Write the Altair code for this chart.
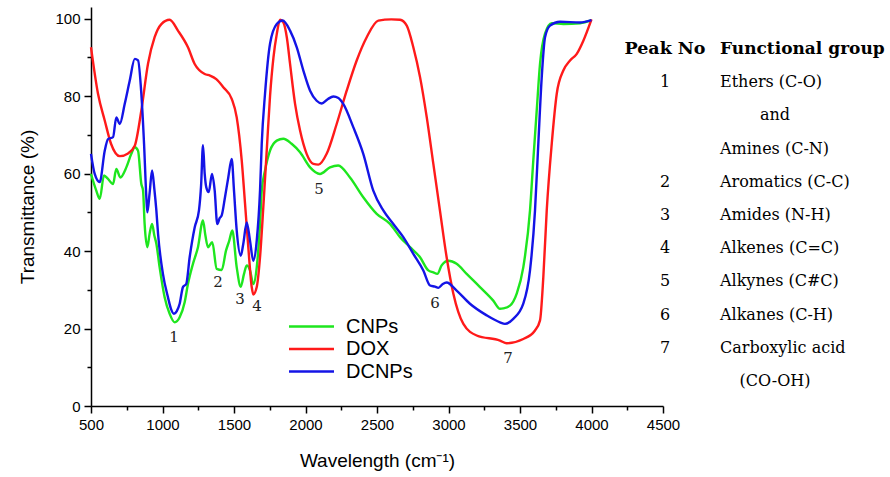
import altair as alt
import pandas as pd

# ---------------- data ----------------
series_names = ["CNPs", "DOX", "DCNPs"]
series_colors = ["#1ee61e", "#ff1a1a", "#1414e6"]

cnp_x = [500, 537, 561, 591, 619, 654, 677, 705, 747, 782,
         806, 829, 852, 864, 875, 894, 910, 927, 943, 957,
         980, 1015, 1050, 1085, 1120, 1155, 1178, 1213, 1248, 1283,
         1300, 1318, 1348, 1379, 1414, 1444, 1467, 1488, 1519, 1547,
         1570, 1589, 1612, 1635, 1659, 1682, 1694, 1717, 1752, 1799,
         1845, 1903, 1962, 2032, 2101, 2171, 2229, 2311, 2404, 2498,
         2591, 2661, 2731, 2801, 2859, 2894, 2922, 2952, 2999, 3057,
         3127, 3220, 3313, 3360, 3383, 3430, 3477, 3523, 3570, 3593,
         3617, 3640, 3675, 3722, 3803, 3920, 4000]
cnp_y = [59.9, 55.6, 53.5, 59.5, 58.6, 57.3, 61.2, 59.0, 61.6, 65.1,
         66.8, 65.9, 57.3, 55.6, 47.0, 41.0, 44.5, 47.0, 44.0, 41.9,
         35.8, 28.1, 23.8, 21.6, 22.9, 26.8, 31.5, 36.7, 41.0, 47.9,
         44.0, 41.0, 42.3, 35.4, 35.1, 40.1, 42.7, 45.3, 35.8, 30.8,
         34.1, 36.3, 35.0, 31.5, 35.8, 47.0, 55.6, 60.8, 65.9, 68.5,
         69.0, 67.7, 65.5, 61.6, 59.9, 61.6, 62.1, 59.0, 53.9, 49.6,
         47.0, 43.6, 41.0, 38.4, 35.0, 34.5, 34.1, 36.3, 37.5, 36.7,
         34.1, 30.7, 27.2, 25.1, 25.2, 25.9, 29.0, 35.8, 50.5, 63.4,
         76.3, 88.3, 96.1, 98.8, 98.6, 98.8, 99.6]

dox_x = [500, 549, 596, 640, 701, 759, 806, 852, 899, 945,
         992, 1050, 1108, 1178, 1225, 1295, 1332, 1376, 1425, 1484,
         1519, 1554, 1577, 1600, 1624, 1635, 1659, 1682, 1705, 1729,
         1752, 1776, 1799, 1822, 1845, 1870, 1892, 1927, 1962, 2008,
         2055, 2090, 2148, 2218, 2288, 2358, 2428, 2509, 2600, 2661,
         2708, 2754, 2801, 2848, 2894, 2940, 2987, 3034, 3104, 3197,
         3360, 3407, 3523, 3605, 3640, 3663, 3687, 3722, 3757, 3803,
         3850, 3897, 3943, 4000]
dox_y = [92.6, 80.6, 73.7, 67.7, 64.5, 65.2, 67.2, 76.3, 88.4, 95.2,
         98.6, 99.7, 96.9, 92.6, 88.3, 85.7, 85.3, 84.4, 82.3, 79.3,
         74.5, 63.4, 52.3, 41.0, 30.7, 28.8, 30.7, 38.4, 51.3, 66.0,
         80.0, 90.0, 96.0, 99.7, 99.0, 95.0, 88.3, 78.0, 71.1, 65.1,
         62.5, 62.3, 65.1, 72.8, 81.4, 89.2, 95.2, 99.5, 99.8, 99.7,
         98.2, 92.6, 84.9, 74.5, 62.5, 50.5, 38.4, 29.0, 21.2, 18.2,
         16.9, 16.2, 17.3, 19.5, 22.1, 33.2, 50.5, 67.7, 80.6, 86.6,
         89.2, 90.9, 94.3, 99.8]

dcnp_x = [500, 526, 561, 596, 619, 654, 677, 701, 736, 771,
          806, 829, 852, 871, 887, 894, 910, 927, 943, 957,
          969, 1003, 1038, 1060, 1080, 1100, 1120, 1143, 1166, 1190,
          1225, 1255, 1270, 1283, 1295, 1306, 1323, 1346, 1365, 1383,
          1400, 1414, 1437, 1460, 1484, 1500, 1519, 1547, 1565, 1589,
          1612, 1635, 1659, 1682, 1694, 1717, 1752, 1799, 1840, 1892,
          1939, 1985, 2032, 2078, 2113, 2155, 2195, 2230, 2264, 2334,
          2404, 2474, 2544, 2614, 2684, 2754, 2824, 2871, 2906, 2929,
          2960, 2987, 3057, 3150, 3267, 3360, 3395, 3453, 3523, 3570,
          3605, 3628, 3652, 3675, 3710, 3780, 3920, 4000]
dcnp_y = [65.1, 59.9, 57.8, 65.9, 68.9, 69.4, 74.5, 72.8, 78.0, 84.0,
          89.6, 89.2, 80.6, 67.7, 53.9, 50.0, 55.0, 60.8, 56.0, 50.5,
          44.4, 34.1, 28.1, 25.0, 23.8, 24.5, 26.4, 30.7, 31.5, 38.4,
          46.1, 50.5, 57.0, 67.3, 60.0, 56.5, 55.2, 59.9, 55.6, 47.0,
          48.5, 49.2, 53.9, 59.0, 63.8, 55.6, 45.3, 38.8, 41.9, 47.4,
          42.7, 37.5, 42.7, 55.6, 67.7, 80.6, 93.5, 98.6, 99.5, 96.9,
          92.6, 86.6, 81.4, 78.8, 78.1, 79.2, 79.9, 79.5, 78.0, 72.0,
          65.1, 55.6, 50.5, 47.0, 43.6, 39.3, 35.0, 31.1, 30.8, 30.5,
          31.5, 31.9, 29.8, 26.4, 23.4, 21.6, 21.2, 22.5, 26.4, 35.0,
          50.5, 67.7, 84.9, 95.2, 98.2, 99.2, 99.0, 99.6]

# peak labels inside the plot
peak_labels = ["1", "2", "3", "4", "5", "6", "7"]
peak_wn = [1080, 1388, 1542, 1661, 2094, 2906, 3416]
peak_t = [17.7, 31.9, 27.5, 25.7, 56.0, 26.5, 12.5]

# side table: columns 0 = peak number, 1 = group (left aligned), 2 = group (centred)
table_headers = ["Peak No", "Functional group"]
table_nums = ["1", "", "", "2", "3", "4", "5", "6", "7", ""]
table_groups = ["Ethers (C-O)", "and", "Amines (C-N)", "Aromatics (C-C)",
                "Amides (N-H)", "Alkenes (C=C)", "Alkynes (C#C)",
                "Alkanes (C-H)", "Carboxylic acid", "(CO-OH)"]
table_group_col = [1, 2, 1, 1, 1, 1, 1, 1, 1, 2]

# ---------------- build tables ----------------
rows = []
for name, xs, ys in [("CNPs", cnp_x, cnp_y), ("DOX", dox_x, dox_y), ("DCNPs", dcnp_x, dcnp_y)]:
    for i, (x, y) in enumerate(zip(xs, ys)):
        rows.append({"series": name, "wn": x, "t": y, "i": i})
df = pd.DataFrame(rows)

peaks_df = pd.DataFrame({"label": peak_labels, "wn": peak_wn, "t": peak_t})

head_df = pd.DataFrame({"row": [0, 0], "col": [0, 1], "txt": table_headers})
num_df = pd.DataFrame({"row": list(range(1, 11)), "col": [0] * 10, "txt": table_nums})
grp_df = pd.DataFrame({"row": list(range(1, 11)), "col": table_group_col, "txt": table_groups})

# ---------------- chart ----------------
xscale = alt.Scale(domain=[500, 4500], nice=False, zero=False)
yscale = alt.Scale(domain=[0, 103], nice=False, zero=True)

x_axis = alt.Axis(
    values=list(range(500, 4501, 250)),
    labelExpr="datum.value % 500 == 0 ? datum.label : ''",
    format="d",
    tickSize={"condition": {"test": "datum.value % 500 == 0", "value": 7}, "value": 4},
    title="Wavelength (cm\u207b\u00b9)",
    titlePadding=19,
    labelPadding=4,
    labelFlush=False,
)
y_axis = alt.Axis(
    values=list(range(0, 101, 10)),
    labelExpr="datum.value % 20 == 0 ? datum.label : ''",
    tickSize={"condition": {"test": "datum.value % 20 == 0", "value": 7}, "value": 4},
    title="Transmittance (%)",
    titlePadding=17,
    labelPadding=4,
    labelFlush=False,
)

lines = alt.Chart(df).mark_line(strokeWidth=2.4, interpolate="monotone").encode(
    x=alt.X("wn:Q", scale=xscale, axis=x_axis),
    y=alt.Y("t:Q", scale=yscale, axis=y_axis),
    color=alt.Color("series:N",
                    scale=alt.Scale(domain=series_names, range=series_colors),
                    sort=series_names,
                    legend=alt.Legend(orient="none", legendX=210, legendY=309,
                                      title=None, symbolType="M-2.5,0H2.5",
                                      symbolSize=324, symbolStrokeWidth=2.5,
                                      labelFontSize=20, labelFont="Liberation Sans",
                                      labelColor="black", labelOffset=24,
                                      rowPadding=1.5, padding=0)),
    detail="series:N",
    order="i:Q",
)

peaks = alt.Chart(peaks_df).mark_text(font="DejaVu Serif", fontSize=15, color="#222").encode(
    x=alt.X("wn:Q", scale=xscale, axis=x_axis),
    y=alt.Y("t:Q", scale=yscale, axis=y_axis),
    text="label:N",
)

main = alt.layer(lines, peaks)

tx = alt.Scale(domain=[0, 1], range=[574, 629])
ty = alt.Scale(domain=[0, 10], range=[42, 374])


def tab_layer(data, align, weight, size):
    return alt.Chart(data).mark_text(
        font="DejaVu Serif", fontSize=size, align=align, color="black", fontWeight=weight
    ).encode(
        x=alt.X("col:Q", scale=tx, axis=None),
        y=alt.Y("row:Q", scale=ty, axis=None),
        text="txt:N",
    )


head_num = tab_layer(head_df[head_df.col == 0], "center", "bold", 17.5)
head_grp = tab_layer(head_df[head_df.col == 1], "left", "bold", 17)
body_num = tab_layer(num_df, "center", "normal", 16)
body_grp = tab_layer(grp_df[grp_df.col == 1], "left", "normal", 16)
body_grp_c = tab_layer(grp_df[grp_df.col == 2], "center", "normal", 16)
table = alt.layer(head_num, head_grp, body_num, body_grp, body_grp_c)

chart = alt.layer(main, table).resolve_scale(x="independent", y="independent").properties(
    width=572, height=399,
    background="white",
    autosize=alt.AutoSizeParams(type="none"),
    padding={"left": 91, "top": 7, "right": 227, "bottom": 71},
).configure_view(strokeWidth=0).configure_axis(
    grid=False,
    domainColor="black", domainWidth=1.5,
    tickColor="black", tickWidth=1.5,
    labelColor="black", labelFont="Liberation Sans", labelFontSize=15,
    titleColor="black", titleFont="Liberation Sans", titleFontSize=19,
    titleFontWeight="normal",
)

chart.save("out.html", embed_options={"renderer": "svg", "actions": False})
